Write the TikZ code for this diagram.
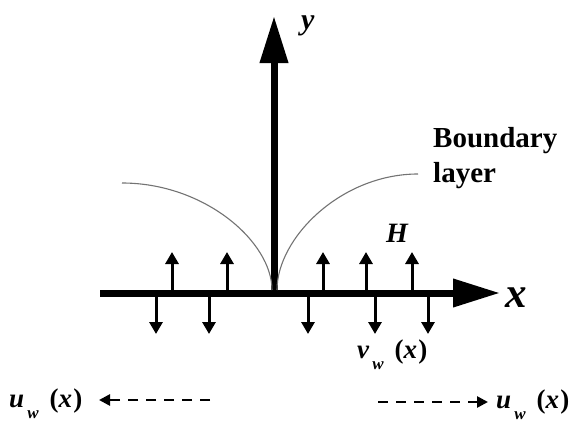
\documentclass[tikz,border=0pt]{standalone}
\usepackage{fontspec}
\setmainfont{Liberation Serif}
\usetikzlibrary{arrows.meta}
\newcommand{\bix}[1]{{\bfseries\itshape #1}}
\newcommand{\subw}[1]{#1\hspace{0.12em}\raisebox{-0.42em}{\fontsize{17}{17}\selectfont\bix{w}}\hspace{0.4em}{\bfseries(\textit{x}\hspace{0.05em})}}
\begin{document}
\begin{tikzpicture}[x=1pt,y=-1pt,
  axisline/.style={line width=7pt,-{Triangle[length=47pt,width=27pt]}},
  smallarrow/.style={line width=3pt,-{Triangle[length=12pt,width=13pt]}},
  dasharrow/.style={line width=2.6pt,dash pattern=on 10pt off 8pt,-{Triangle[length=11pt,width=11pt]}},
  bl/.style={draw=black!55,line width=1.1pt},
  lab/.style={inner sep=0pt,anchor=base west,font=\fontsize{27}{30}\selectfont}]
\useasboundingbox (0,0) rectangle (584,423);
% axes
\coordinate (xs) at (100,293);
\coordinate (xe) at (500,293);
\coordinate (ys) at (274,296);
\coordinate (ye) at (274,16);
\draw[axisline] (xs) -- (xe);
\draw[axisline] (ys) -- (ye);
% boundary layer curves
\coordinate (l1) at (122,183);
\coordinate (l2) at (272,290);
\coordinate (r1) at (418,174);
\coordinate (r2) at (277,290);
\draw[bl] (l1) .. controls (205,183) and (272,242) .. (l2);
\draw[bl] (r1) .. controls (341,174) and (277,238) .. (r2);
% suction/injection arrows
\foreach \p in {172,227,323,366,412}{
  \coordinate (up\p a) at (\p,293);
  \coordinate (up\p b) at (\p,252);
  \draw[smallarrow] (up\p a) -- (up\p b);
}
\foreach \p in {156,209,308,375,428}{
  \coordinate (dn\p a) at (\p,293);
  \coordinate (dn\p b) at (\p,334);
  \draw[smallarrow] (dn\p a) -- (dn\p b);
}
% dashed arrows
\coordinate (dl1) at (210,400);
\coordinate (dl2) at (99,400);
\coordinate (dr1) at (378,402);
\coordinate (dr2) at (488,402);
\draw[dasharrow] (dl1) -- (dl2);
\draw[dasharrow] (dr1) -- (dr2);
% labels
\node[lab,font=\fontsize{30}{34}\selectfont] (ylab) at (301,30) {\bix{y}};
\node[lab,font=\fontsize{43}{48}\selectfont] (xlab) at (505,307) {\bix{x}};
\node[lab,font=\fontsize{28}{30}\selectfont] (hlab) at (386,242) {\bix{H}};
\node[lab,font=\fontsize{29}{30}\selectfont\bfseries] (bl1) at (433,147) {Boundary};
\node[lab,font=\fontsize{29}{30}\selectfont\bfseries] (bl2) at (433,182) {layer};
\node[lab] (vlab) at (357,358) {\subw{\bix{v}}};
\node[lab] (ulab1) at (9,407) {\subw{\bix{u}}};
\node[lab] (ulab2) at (496,408) {\subw{\bix{u}}};
\end{tikzpicture}
\end{document}
